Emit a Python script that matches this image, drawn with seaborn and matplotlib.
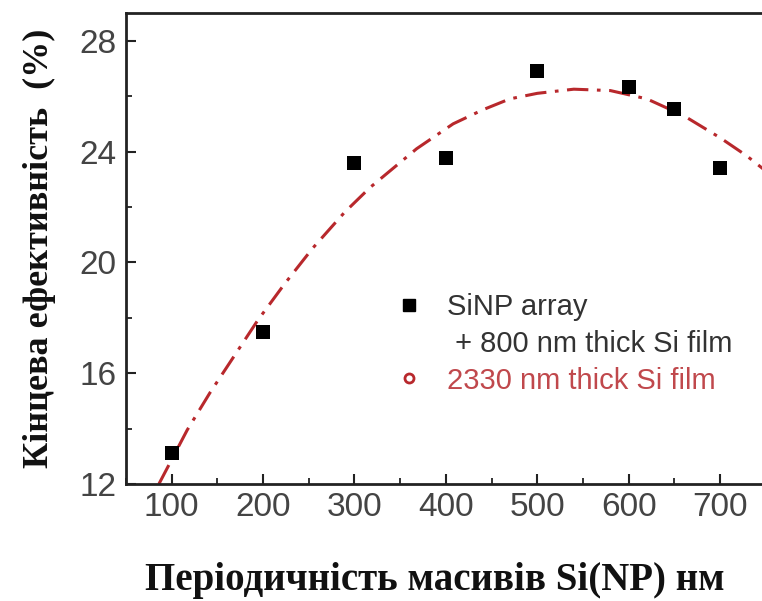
import matplotlib
matplotlib.use("Agg")
import matplotlib.pyplot as plt
from matplotlib.lines import Line2D
from matplotlib.ticker import MultipleLocator
import seaborn as sns
import pandas as pd

# ---- data ----
period_nm = [100, 200, 300, 400, 500, 600, 650, 700]
efficiency = [13.12, 17.48, 23.57, 23.75, 26.92, 26.34, 25.55, 23.39]

fit_x = [86, 117, 142, 168, 194, 223, 254, 289, 317, 368, 408, 440, 470, 500, 540, 580, 620, 660, 700, 729, 750]
fit_y = [12.0, 13.95, 15.3, 16.6, 17.9, 19.2, 20.5, 21.8, 22.7, 24.1, 25.0, 25.5, 25.9, 26.1,
         26.25, 26.2, 25.9, 25.3, 24.5, 23.85, 23.3]

x_ticks = [100, 200, 300, 400, 500, 600, 700]
y_ticks = [12, 16, 20, 24, 28]

legend_labels = ["SiNP array", " + 800 nm thick Si film", "2330 nm thick Si film"]
xlabel = "Періодичність масивів Si(NP) нм"
ylabel = "Кінцева ефективність  (%)"

sns.set_theme(style="white")
plt.rcParams["font.family"] = ["Liberation Sans", "DejaVu Sans"]

W, H = 762, 601
fig = plt.figure(figsize=(W / 100, H / 100), dpi=100)
left, right, top, bottom = 126, 765.7, 13, 484
ax = fig.add_axes([left / W, (H - bottom) / H, (right - left) / W, (bottom - top) / H])

red = "#b8282c"
pts = pd.DataFrame({"period": period_nm, "eff": efficiency})
fit = pd.DataFrame({"x": fit_x, "y": fit_y})

sns.lineplot(data=fit, x="x", y="y", ax=ax, color=red, linewidth=2.2,
             linestyle=(0, (7, 2.8, 1.2, 2.8)), sort=False, zorder=2)
sns.scatterplot(data=pts, x="period", y="eff", ax=ax, marker="s", s=115,
                color="black", edgecolor="black", linewidth=0, zorder=3)

ax.set_xlim(50, 750)
ax.set_ylim(12, 29)
ax.set_xticks(x_ticks)
ax.set_yticks(y_ticks)
ax.xaxis.set_minor_locator(MultipleLocator(50))
ax.yaxis.set_minor_locator(MultipleLocator(2))
ax.tick_params(axis="both", which="major", direction="in", length=7, width=1.5,
               color="#222222", labelsize=24, labelcolor="#444444",
               bottom=True, left=True, top=False, right=False)
ax.tick_params(axis="both", which="minor", direction="in", length=4, width=1.3,
               color="#222222", bottom=True, left=True, top=False, right=False)
ax.tick_params(axis="x", which="major", pad=6)
ax.tick_params(axis="y", which="major", pad=7)

for side in ["left", "bottom", "top"]:
    ax.spines[side].set_visible(True)
    ax.spines[side].set_color("#222222")
    ax.spines[side].set_linewidth(2.0)
ax.spines["right"].set_visible(False)

ax.set_xlabel(xlabel, fontsize=28, fontweight="bold", family=["Liberation Serif", "DejaVu Serif"],
              color="#111111")
ax.xaxis.set_label_coords(0.482, -0.165)
ax.set_ylabel(ylabel, fontsize=26, fontweight="bold", family=["Liberation Serif", "DejaVu Serif"],
              color="#111111")
ax.yaxis.set_label_coords(-0.11, 0.5)

handles = [
    Line2D([], [], linestyle="none", marker="s", markersize=8, color="black"),
    Line2D([], [], linestyle="none", marker=None),
    Line2D([], [], linestyle="none", marker="o", markersize=6.5, markerfacecolor="none",
           markeredgecolor=red, markeredgewidth=2),
]
leg = ax.legend(handles, legend_labels, loc="upper left", bbox_to_anchor=(0.402, 0.43),
                frameon=False, fontsize=21, handlelength=1.0, handletextpad=0.8,
                labelspacing=0.3, borderaxespad=0)
texts = leg.get_texts()
texts[0].set_color("#333333")
texts[1].set_color("#333333")
texts[2].set_color("#c0484c")

fig.savefig("out.png", dpi=100)
